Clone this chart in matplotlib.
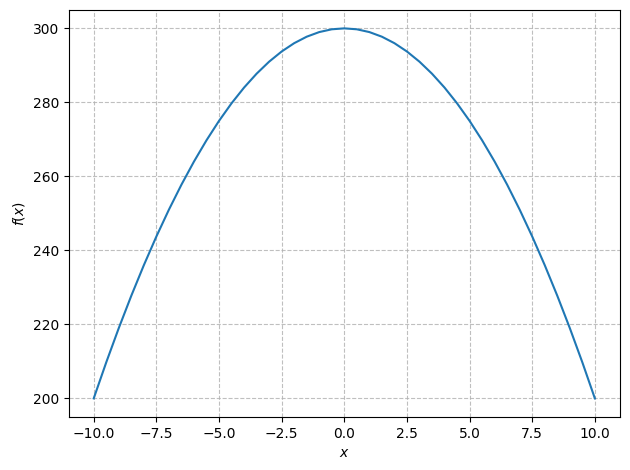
from matplotlib import use
use('Agg')
import matplotlib.pyplot as plt

# values
x_vals = [-10.0, -9.5, -9.0, -8.5, -8.0, -7.5, -7.0, -6.5, -6.0, -5.5, -5.0,
          -4.5, -4.0, -3.5, -3.0, -2.5, -2.0, -1.5, -1.0, -0.5, 0.0,
          0.5, 1.0, 1.5, 2.0, 2.5, 3.0, 3.5, 4.0, 4.5, 5.0,
          5.5, 6.0, 6.5, 7.0, 7.5, 8.0, 8.5, 9.0, 9.5, 10.0]
y_vals = [200.0, 209.75, 219.0, 227.75, 236.0, 243.75, 251.0, 257.75, 264.0, 269.75, 275.0,
          279.75, 284.0, 287.75, 291.0, 293.75, 296.0, 297.75, 299.0, 299.75, 300.0,
          299.75, 299.0, 297.75, 296.0, 293.75, 291.0, 287.75, 284.0, 279.75, 275.0,
          269.75, 264.0, 257.75, 251.0, 243.75, 236.0, 227.75, 219.0, 209.75, 200.0]

fig, ax = plt.subplots(figsize=(6.3, 4.7), dpi=100)
ax.plot(x_vals, y_vals, color='#1f77b4', linewidth=1.5)
ax.set_xlabel('$x$')
ax.set_ylabel('$f(x)$')
ax.grid(True, linestyle='--', color='#b0b0b0', alpha=0.8)
fig.subplots_adjust(left=0.109, right=0.984, top=0.979, bottom=0.113)
fig.savefig('out.png')
